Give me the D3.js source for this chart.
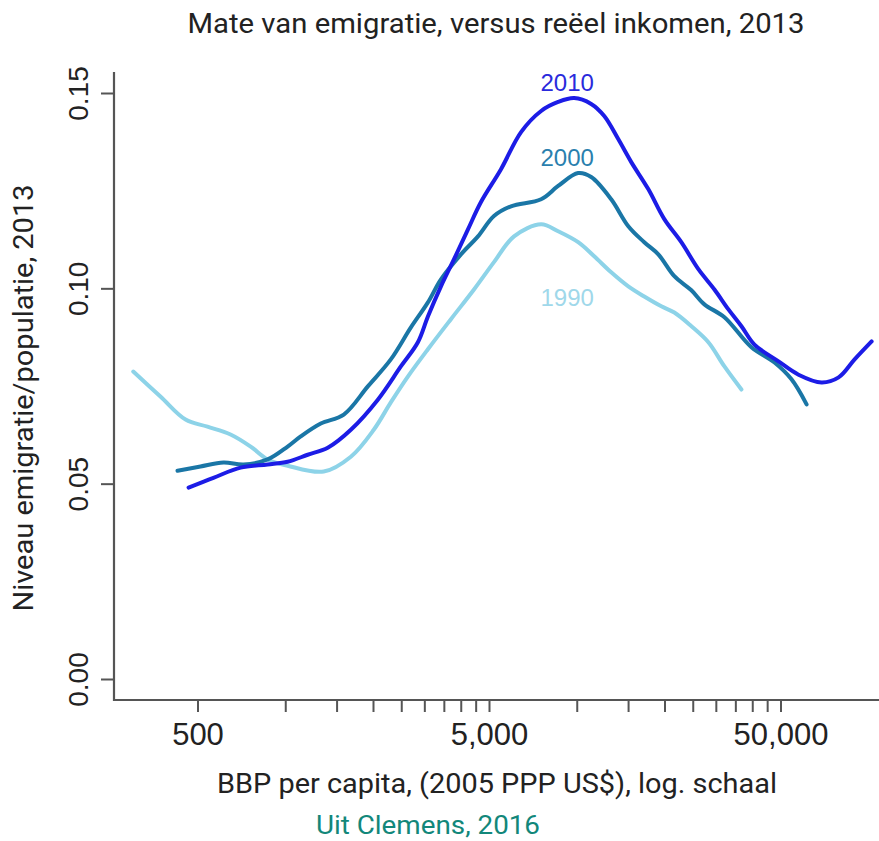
<!DOCTYPE html>
<html>
<head>
<meta charset="utf-8">
<script src="https://cdn.jsdelivr.net/npm/d3@7"></script>
<style>
  html, body { margin: 0; padding: 0; background: #fff; }
  svg { display: block; }
</style>
</head>
<body>
<svg id="chart" width="879" height="841"></svg>
<script>
// GDP per capita (2005 PPP US$) and emigration stock / population, smoothed per cohort
const gdp1990 = [301, 373, 455, 541, 649, 761, 870, 1019, 1355, 1679, 2012, 2302, 2634, 3086, 3701, 4441, 5200, 6094, 7547, 8633, 10111, 11477, 13128, 15026, 17044, 19504, 21617, 24731, 28284, 32108, 36726];
const rate1990 = [0.0787, 0.0723, 0.0664, 0.0646, 0.0626, 0.0595, 0.0562, 0.0546, 0.0531, 0.0569, 0.0638, 0.0708, 0.0774, 0.0844, 0.0921, 0.0997, 0.1067, 0.1133, 0.1164, 0.1146, 0.1118, 0.1082, 0.1041, 0.1005, 0.0979, 0.0954, 0.0938, 0.0903, 0.0862, 0.0800, 0.0741];

const gdp2000 = [427, 512, 614, 720, 870, 1019, 1130, 1324, 1588, 1920, 2302, 2698, 3086, 3421, 4007, 4583, 5200, 5950, 7547, 8633, 10111, 11207, 13128, 15026, 17044, 19045, 21617, 24731, 27403, 32108, 39745, 47683, 54535, 61445];
const rate2000 = [0.0533, 0.0544, 0.0554, 0.0549, 0.0562, 0.0595, 0.0621, 0.0654, 0.0677, 0.0749, 0.0818, 0.0900, 0.0964, 0.1023, 0.1087, 0.1133, 0.1185, 0.1210, 0.1228, 0.1262, 0.1295, 0.1285, 0.1228, 0.1159, 0.1118, 0.1087, 0.1031, 0.0995, 0.0959, 0.0926, 0.0849, 0.0810, 0.0767, 0.0703];

const gdp2010 = [466, 567, 703, 870, 1019, 1194, 1399, 1679, 2078, 2492, 2851, 3086, 3421, 3790, 4235, 4693, 5497, 6441, 7547, 8633, 9799, 11207, 12426, 13878, 15381, 17593, 19972, 22841, 26135, 29667, 33140, 36726, 40704, 49210, 57652, 69149, 79118, 89782, 102700];
const rate2010 = [0.0490, 0.0515, 0.0541, 0.0549, 0.0556, 0.0574, 0.0592, 0.0638, 0.0715, 0.0800, 0.0862, 0.0928, 0.1005, 0.1074, 0.1151, 0.1221, 0.1305, 0.1400, 0.1454, 0.1477, 0.1487, 0.1472, 0.1441, 0.1382, 0.1323, 0.1254, 0.1177, 0.1118, 0.1049, 0.0997, 0.0946, 0.0903, 0.0856, 0.0813, 0.0779, 0.0759, 0.0772, 0.0818, 0.0864];

// axis ticks
const xTickValues = [500, 1000, 1500, 2000, 2500, 3000, 3500, 4000, 4500, 5000, 10000, 15000, 20000, 25000, 30000, 35000, 40000, 45000, 50000];
const xTickLabels = {500: "500", 5000: "5,000", 50000: "50,000"};
const yTickValues = [0, 0.05, 0.10, 0.15];
const yTickLabels = ["0.00", "0.05", "0.10", "0.15"];

// series labels (year, anchor gdp, anchor rate)
const seriesYears = ["2010", "2000", "1990"];
const labelGdp = [9270, 9270, 9270];
const labelRate = [0.1505, 0.1313, 0.0954];

const series = [
  {year: "1990", gdp: gdp1990, rate: rate1990, color: "#8dd3e8", text: "#9fd8ea"},
  {year: "2000", gdp: gdp2000, rate: rate2000, color: "#1a76a6", text: "#2a7fae"},
  {year: "2010", gdp: gdp2010, rate: rate2010, color: "#1c1ce6", text: "#2a2adc"}
];

const svg = d3.select("#chart");
const plotLeft = 114, plotRight = 879, plotTop = 72, plotBottom = 700;

// log x scale: 500 and 50,000 sit at fixed positions, then extended to the plot edges
const x0 = d3.scaleLog().domain([500, 50000]).range([197.5, 780.5]);
const x = d3.scaleLog().domain([x0.invert(plotLeft), x0.invert(plotRight)]).range([plotLeft, plotRight]);

const y0 = d3.scaleLinear().domain([0, 0.15]).range([679, 93]);
const y = d3.scaleLinear().domain([y0.invert(plotBottom), y0.invert(plotTop)]).range([plotBottom, plotTop]);

const axisColor = "#555";
const tickFont = "'Liberation Sans', Arial, Helvetica, sans-serif";
const labelFont = "Roboto, 'Noto Sans', sans-serif";

// x axis
const xAxis = d3.axisBottom(x)
  .tickValues(xTickValues)
  .tickSize(12)
  .tickSizeOuter(0)
  .tickFormat(d => xTickLabels[d] || "");
const gx = svg.append("g").attr("transform", `translate(0,${plotBottom})`).call(xAxis);
gx.select(".domain").remove();
gx.selectAll(".tick line").attr("stroke", axisColor).attr("stroke-width", 2);
gx.selectAll(".tick text")
  .attr("y", 45).attr("dy", 0)
  .attr("fill", "#222")
  .style("font-family", tickFont)
  .style("font-size", "31px");

// y axis
const yAxis = d3.axisLeft(y)
  .tickValues(yTickValues)
  .tickSize(13)
  .tickSizeOuter(0)
  .tickFormat((d, i) => yTickLabels[i]);
const gy = svg.append("g").attr("transform", `translate(${plotLeft},0)`).call(yAxis);
gy.select(".domain").remove();
gy.selectAll(".tick line").attr("stroke", axisColor).attr("stroke-width", 2);
gy.selectAll(".tick text")
  .attr("x", 0).attr("y", 0).attr("dy", 0)
  .attr("text-anchor", "middle")
  .attr("transform", "translate(-26,0) rotate(-90)")
  .attr("fill", "#222")
  .style("font-family", tickFont)
  .style("font-size", "28px");

// axis lines (open frame: left and bottom)
svg.append("path")
  .attr("d", `M${plotLeft},${plotTop}V${plotBottom}H${plotRight}`)
  .attr("fill", "none")
  .attr("stroke", axisColor)
  .attr("stroke-width", 2.2);

// series curves
const line = d3.line()
  .x(d => x(d[0]))
  .y(d => y(d[1]))
  .curve(d3.curveCatmullRom.alpha(0.5));

svg.append("g").selectAll("path")
  .data(series)
  .join("path")
  .attr("d", s => line(d3.zip(s.gdp, s.rate)))
  .attr("fill", "none")
  .attr("stroke", s => s.color)
  .attr("stroke-width", 4)
  .attr("stroke-linecap", "round")
  .attr("stroke-linejoin", "round");

// series labels
const labelColor = {};
series.forEach(s => labelColor[s.year] = s.text);
svg.append("g").selectAll("text")
  .data(seriesYears)
  .join("text")
  .attr("x", (d, i) => x(labelGdp[i]))
  .attr("y", (d, i) => y(labelRate[i]))
  .attr("text-anchor", "middle")
  .attr("fill", d => labelColor[d])
  .style("font-family", tickFont)
  .style("font-size", "24px")
  .text(d => d);

// titles
svg.append("text")
  .attr("x", 496).attr("y", 33)
  .attr("text-anchor", "middle")
  .attr("textLength", 617).attr("lengthAdjust", "spacingAndGlyphs")
  .attr("fill", "#222")
  .style("font-family", labelFont)
  .style("font-size", "27px")
  .text("Mate van emigratie, versus reëel inkomen, 2013");

svg.append("text")
  .attr("x", 497).attr("y", 793)
  .attr("text-anchor", "middle")
  .attr("textLength", 560).attr("lengthAdjust", "spacingAndGlyphs")
  .attr("fill", "#222")
  .style("font-family", labelFont)
  .style("font-size", "27px")
  .text("BBP per capita, (2005 PPP US$), log. schaal");

svg.append("text")
  .attr("transform", "translate(33,398) rotate(-90)")
  .attr("text-anchor", "middle")
  .attr("textLength", 427).attr("lengthAdjust", "spacingAndGlyphs")
  .attr("fill", "#222")
  .style("font-family", labelFont)
  .style("font-size", "27px")
  .text("Niveau emigratie/populatie, 2013");

svg.append("text")
  .attr("x", 428).attr("y", 834)
  .attr("text-anchor", "middle")
  .attr("textLength", 224).attr("lengthAdjust", "spacingAndGlyphs")
  .attr("fill", "#12877a")
  .style("font-family", labelFont)
  .style("font-size", "26px")
  .text("Uit Clemens, 2016");
</script>
</body>
</html>
